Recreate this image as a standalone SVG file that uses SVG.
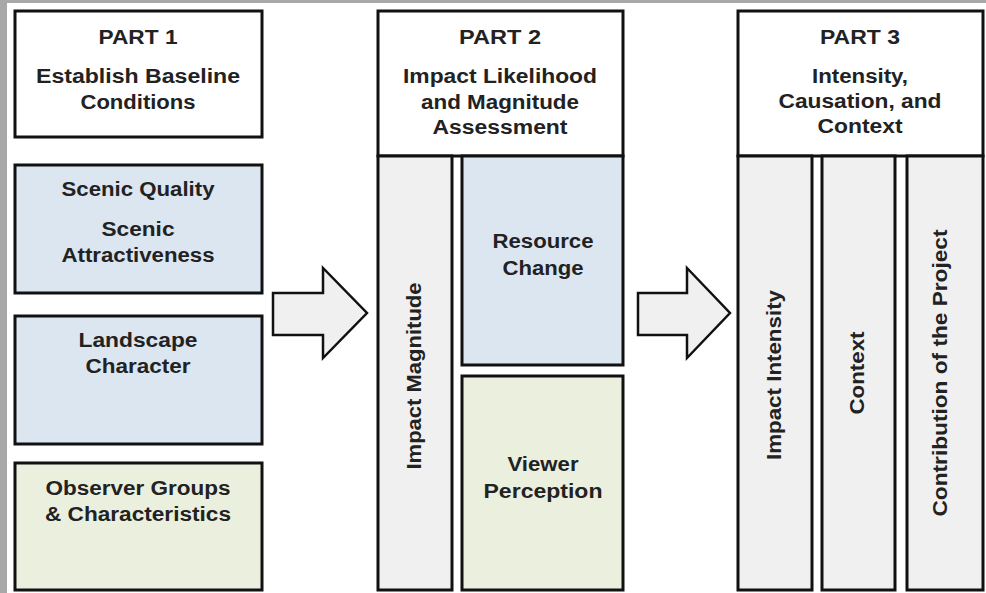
<svg xmlns="http://www.w3.org/2000/svg" width="986" height="593" viewBox="0 0 986 593">
<style>
.box{stroke:#111;stroke-width:3}
.w{fill:#fff}
.b{fill:#dce6f1}
.g{fill:#ebf0de}
.c{fill:#f0f0f0}
.t{font-family:"Liberation Sans",Arial,sans-serif;font-weight:bold;font-size:20px;fill:#222;text-anchor:middle}
.arrow{fill:#f0f0f0;stroke:#111;stroke-width:2.5;stroke-linejoin:miter}
</style>
<rect x="0" y="0" width="986" height="593" fill="#fff"/>
<rect x="0" y="0" width="7" height="593" fill="#a8a8a8"/>
<rect x="0" y="0" width="986" height="3" fill="#a8a8a8"/>

<g id="part1-header">
<rect class="box w" x="15" y="11" width="247" height="126"/>
<text class="t" x="138" y="44" textLength="79" lengthAdjust="spacingAndGlyphs">PART 1</text>
<text class="t" x="138" y="83" textLength="204" lengthAdjust="spacingAndGlyphs">Establish Baseline</text>
<text class="t" x="138" y="109" textLength="115" lengthAdjust="spacingAndGlyphs">Conditions</text>
</g>
<g id="scenic-quality">
<rect class="box b" x="15" y="165" width="247" height="128"/>
<text class="t" x="138" y="196" textLength="153" lengthAdjust="spacingAndGlyphs">Scenic Quality</text>
<text class="t" x="138" y="236" textLength="73" lengthAdjust="spacingAndGlyphs">Scenic</text>
<text class="t" x="138" y="262" textLength="153" lengthAdjust="spacingAndGlyphs">Attractiveness</text>
</g>
<g id="landscape-character">
<rect class="box b" x="15" y="316" width="247" height="128"/>
<text class="t" x="138" y="347" textLength="119" lengthAdjust="spacingAndGlyphs">Landscape</text>
<text class="t" x="138" y="373" textLength="105" lengthAdjust="spacingAndGlyphs">Character</text>
</g>
<g id="observer-groups">
<rect class="box g" x="15" y="463" width="247" height="127"/>
<text class="t" x="138" y="495" textLength="185" lengthAdjust="spacingAndGlyphs">Observer Groups</text>
<text class="t" x="138" y="521" textLength="186" lengthAdjust="spacingAndGlyphs">&amp; Characteristics</text>
</g>

<g id="part2-header">
<rect class="box w" x="378" y="11" width="245" height="145"/>
<text class="t" x="500" y="44" textLength="82" lengthAdjust="spacingAndGlyphs">PART 2</text>
<text class="t" x="500" y="83" textLength="194" lengthAdjust="spacingAndGlyphs">Impact Likelihood</text>
<text class="t" x="500" y="109" textLength="158" lengthAdjust="spacingAndGlyphs">and Magnitude</text>
<text class="t" x="500" y="134" textLength="135" lengthAdjust="spacingAndGlyphs">Assessment</text>
</g>
<g id="impact-magnitude">
<rect class="box c" x="378" y="156" width="74" height="434"/>
<text class="t" transform="translate(421,376) rotate(-90)" x="0" y="0" textLength="187" lengthAdjust="spacingAndGlyphs">Impact Magnitude</text>
</g>
<g id="resource-change">
<rect class="box b" x="462" y="156" width="161" height="209"/>
<text class="t" x="543" y="248" textLength="101" lengthAdjust="spacingAndGlyphs">Resource</text>
<text class="t" x="543" y="275" textLength="81" lengthAdjust="spacingAndGlyphs">Change</text>
</g>
<g id="viewer-perception">
<rect class="box g" x="462" y="376" width="161" height="214"/>
<text class="t" x="543" y="471" textLength="71" lengthAdjust="spacingAndGlyphs">Viewer</text>
<text class="t" x="543" y="498" textLength="119" lengthAdjust="spacingAndGlyphs">Perception</text>
</g>

<g id="part3-header">
<rect class="box w" x="738" y="11" width="245" height="145"/>
<text class="t" x="860" y="44" textLength="80" lengthAdjust="spacingAndGlyphs">PART 3</text>
<text class="t" x="860" y="83" textLength="96" lengthAdjust="spacingAndGlyphs">Intensity,</text>
<text class="t" x="860" y="108" textLength="163" lengthAdjust="spacingAndGlyphs">Causation, and</text>
<text class="t" x="860" y="133" textLength="85" lengthAdjust="spacingAndGlyphs">Context</text>
</g>
<g id="impact-intensity">
<rect class="box c" x="738" y="156" width="74" height="434"/>
<text class="t" transform="translate(781,375) rotate(-90)" x="0" y="0" textLength="170" lengthAdjust="spacingAndGlyphs">Impact Intensity</text>
</g>
<g id="context">
<rect class="box c" x="822" y="156" width="73" height="434"/>
<text class="t" transform="translate(864,373) rotate(-90)" x="0" y="0" textLength="83" lengthAdjust="spacingAndGlyphs">Context</text>
</g>
<g id="contribution">
<rect class="box c" x="907" y="156" width="76" height="434"/>
<text class="t" transform="translate(947,373) rotate(-90)" x="0" y="0" textLength="287" lengthAdjust="spacingAndGlyphs">Contribution of the Project</text>
</g>

<g id="connectors">
<polygon class="arrow" points="273,293 323,293 323,268 367,313 323,358 323,335 273,335"/>
<polygon class="arrow" points="638,293 687,293 687,268 730,313 687,358 687,335 638,335"/>
</g>
</svg>
